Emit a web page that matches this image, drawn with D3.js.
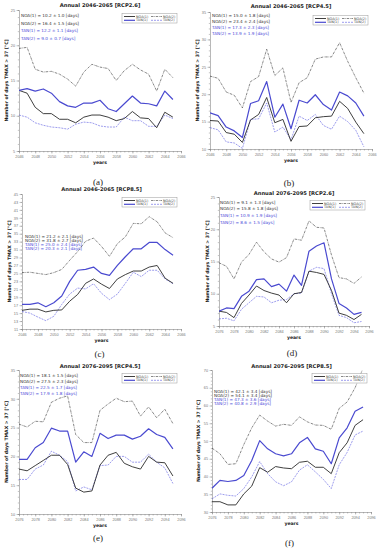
<!DOCTYPE html>
<html><head><meta charset="utf-8">
<script src="https://cdn.jsdelivr.net/npm/d3@7"></script>
<style>body{margin:0;background:#fff}svg{display:block}</style>
</head><body>
<script>
const yearsP1 = [2046,2047,2048,2049,2050,2051,2052,2053,2054,2055,2056,2057,2058,2059,2060,2061,2062,2063,2064,2065];
const yearsP2 = [2076,2077,2078,2079,2080,2081,2082,2083,2084,2085,2086,2087,2088,2089,2090,2091,2092,2093,2094,2095];
const seriesNames = ["NOA(1)","NOA(2)","TAN(1)","TAN(2)"];

// (a) 2046-2065 RCP2.6
const a_noa1 = [13.6,13.2,11.2,10.3,10.3,9.5,9.5,9.0,9.8,10.1,10.1,9.8,9.3,9.6,10.6,9.7,9.6,8.3,10.5,9.8];
const a_noa2 = [19.55,19.7,16.6,16.2,16.3,15.9,15.2,14.2,16.2,17.3,16.9,16.7,15.0,16.4,17.3,16.5,15.9,13.5,16.6,15.4];
const a_tan1 = [13.6,13.85,13.5,13.8,13.2,12.0,11.4,11.2,11.8,11.8,12.2,11.0,10.6,11.7,12.8,11.8,11.7,11.4,13.5,12.3];
const a_tan2 = [10.1,9.8,9.0,8.65,8.4,8.3,8.1,8.8,9.1,9.0,8.55,8.4,8.4,9.8,9.3,9.3,8.5,8.5,10.1,9.6];
// (b) 2046-2065 RCP4.5
const b_noa1 = [15.2,15.1,13.0,12.7,11.2,15.3,16.3,19.4,14.8,15.4,11.4,14.1,14.2,15.7,15.9,16.0,18.7,17.4,14.9,12.8];
const b_noa2 = [23.3,22.9,20.4,19.8,17.5,22.3,23.2,28.2,23.4,24.8,18.5,22.1,23.0,26.4,26.8,26.8,29.4,26.0,23.0,20.2];
const b_tan1 = [16.6,16.1,14.0,13.3,12.1,18.3,18.8,22.3,15.8,18.2,13.7,18.9,18.4,19.9,18.1,17.1,20.4,19.7,18.4,16.0];
const b_tan2 = [13.9,13.5,11.3,11.1,10.1,15.4,15.5,18.4,13.1,14.0,11.7,16.0,15.2,16.3,14.3,13.6,16.0,15.0,13.4,10.4];
// (c) 2046-2065 RCP8.5
const c_noa1 = [15.7,16.0,16.0,15.3,15.7,15.8,18.0,19.7,22.5,23.6,22.3,21.2,23.6,24.7,25.6,25.6,26.6,27.0,23.8,22.5];
const c_noa2 = [25.2,25.3,25.0,24.7,25.2,26.0,28.3,30.5,33.1,33.9,31.8,29.3,32.5,34.2,37.6,37.5,39.3,38.0,35.2,34.0];
const c_tan1 = [17.2,17.2,17.6,16.6,17.6,19.3,23.0,25.8,26.0,26.6,25.0,24.5,27.0,29.2,31.2,31.2,32.8,32.8,31.0,29.6];
const c_tan2 = [15.4,15.0,14.0,13.1,14.2,17.2,19.8,21.3,21.1,22.4,20.0,18.4,19.8,22.5,25.3,24.2,25.8,25.8,23.6,22.4];
// (d) 2076-2095 RCP2.6
const d_noa1 = [7.3,7.1,6.3,8.5,9.8,11.2,10.5,10.1,9.8,8.6,10.0,10.2,13.5,13.3,13.0,10.5,7.0,6.65,6.0,6.8];
const d_noa2 = [14.8,14.25,12.3,14.9,16.1,18.0,16.5,15.4,14.9,15.6,18.5,18.3,21.3,20.3,20.2,16.0,12.5,12.3,11.6,12.6];
const d_tan1 = [7.3,7.8,7.7,9.6,10.4,12.2,12.3,11.1,11.5,10.4,12.9,11.3,16.6,17.4,17.9,12.3,8.5,7.8,6.8,7.1];
const d_tan2 = [6.1,6.2,5.8,7.6,8.6,9.6,9.5,8.6,9.0,9.1,10.0,10.1,13.5,14.1,13.9,10.0,6.65,6.3,5.5,5.7];
// (e) 2076-2095 RCP4.5
const e_noa1 = [17.8,17.5,18.4,19.3,20.2,20.2,18.6,14.5,13.8,14.0,18.5,20.2,20.7,18.8,18.2,17.8,20.0,19.0,18.9,16.6];
const e_noa2 = [25.6,25.1,26.1,26.0,29.4,30.1,30.5,23.8,22.4,22.4,28.0,29.1,30.1,29.5,29.6,27.0,28.6,26.7,28.2,25.7];
const e_tan1 = [19.5,19.5,21.5,22.4,24.9,24.4,24.4,19.0,20.8,20.0,24.0,23.1,23.7,23.7,23.0,23.5,24.8,23.8,23.3,21.3];
const e_tan2 = [16.0,16.0,17.8,18.5,20.9,20.2,19.1,14.0,14.7,14.2,18.4,18.5,20.0,20.0,19.0,19.0,20.4,19.0,18.0,15.3];
// (f) 2076-2095 RCP8.5
const f_noa1 = [32.9,32.9,32.0,32.0,35.1,37.3,42.5,41.2,42.8,42.4,42.2,44.0,44.3,42.6,42.6,40.8,46.7,49.5,54.4,56.0];
const f_noa2 = [48.0,46.4,43.4,43.6,49.0,53.7,57.3,55.6,54.2,54.7,54.4,56.8,55.4,54.5,54.4,53.3,59.2,61.0,65.0,70.5];
const f_tan1 = [36.7,38.9,38.6,38.9,40.3,44.5,50.1,47.8,46.4,45.8,46.4,49.5,51.0,47.8,47.1,43.6,50.9,53.7,58.4,59.6];
const f_tan2 = [33.7,35.1,34.7,34.5,36.6,39.9,44.2,40.8,38.5,37.4,38.5,41.8,43.3,41.3,39.2,36.6,43.3,46.8,51.7,52.8];

const statsA = ["NOA(1) = 10.2 ± 1.0 [days]","NOA(2) = 16.4 ± 1.5 [days]","TAN(1) = 12.2 ± 1.1 [days]","TAN(2) = 9.0 ± 0.7 [days]"];
const statsB = ["NOA(1) = 15.0 ± 1.8 [days]","NOA(2) = 23.4 ± 2.4 [days]","TAN(1) = 17.3 ± 2.3 [days]","TAN(2) = 13.9 ± 1.9 [days]"];
const statsC = ["NOA(1) = 21.2 ± 2.1 [days]","NOA(2) = 31.8 ± 2.7 [days]","TAN(1) = 25.0 ± 2.4 [days]","TAN(2) = 20.3 ± 2.1 [days]"];
const statsD = ["NOA(1) = 9.1 ± 1.3 [days]","NOA(2) = 15.8 ± 1.8 [days]","TAN(1) = 10.9 ± 1.9 [days]","TAN(2) = 8.6 ± 1.5 [days]"];
const statsE = ["NOA(1) = 18.1 ± 1.5 [days]","NOA(2) = 27.5 ± 2.3 [days]","TAN(1) = 22.5 ± 1.7 [days]","TAN(2) = 17.9 ± 1.8 [days]"];
const statsF = ["NOA(1) = 42.1 ± 3.4 [days]","NOA(2) = 54.1 ± 3.4 [days]","TAN(1) = 47.3 ± 3.6 [days]","TAN(2) = 40.8 ± 2.9 [days]"];

const xTicksP1 = [2046,2048,2050,2052,2054,2056,2058,2060,2062,2064,2066];
const xTicksP2 = [2076,2078,2080,2082,2084,2086,2088,2090,2092,2094,2096];
const yTicksA = [5,10,15,20,25];
const yTicksB = [10,15,20,25,30,35];
const yTicksC = [11,13,15,17,19,21,23,25,27,29,31,33,35,37,39,41,43,45];
const yTicksD = [5,10,15,20,25];
const yTicksE = [10,15,20,25,30,35];
const yTicksF = [30,35,40,45,50,55,60,65,70];

const panels = [
  {id:"a", title:"Annual 2046-2065 [RCP2.6]", years:yearsP1, data:[a_noa1,a_noa2,a_tan1,a_tan2], stats:statsA, xt:xTicksP1, yt:yTicksA,
   L:19,R:181,T:10,B:151, titleY:7, statX:21, statY:[17,24.5,32,39.5], letter:"(a)", letterY:185, ylabX:6, minorY:1},
  {id:"b", title:"Annual 2046-2065 [RCP4.5]", years:yearsP1, data:[b_noa1,b_noa2,b_tan1,b_tan2], stats:statsB, xt:xTicksP1, yt:yTicksB,
   L:210,R:372,T:12,B:149, titleY:8, statX:212, statY:[17,23,29,35], letter:"(b)", letterY:186, ylabX:197, minorY:1},
  {id:"c", title:"Annual 2046-2065 [RCP8.5]", years:yearsP1, data:[c_noa1,c_noa2,c_tan1,c_tan2], stats:statsC, xt:xTicksP1, yt:yTicksC,
   L:22,R:181,T:194,B:329, titleY:191, statX:25, statY:[238,242,246,250], letter:"(c)", letterY:357, ylabX:9, minorY:0},
  {id:"d", title:"Annual 2076-2095 [RCP2.6]", years:yearsP2, data:[d_noa1,d_noa2,d_tan1,d_tan2], stats:statsD, xt:xTicksP2, yt:yTicksD,
   L:219,R:369,T:197,B:326, titleY:195, statX:220, statY:[204,210,217,224], letter:"(d)", letterY:356, ylabX:207, minorY:1},
  {id:"e", title:"Annual 2076-2095 [RCP4.5]", years:yearsP2, data:[e_noa1,e_noa2,e_tan1,e_tan2], stats:statsE, xt:xTicksP2, yt:yTicksE,
   L:19,R:181,T:370,B:514, titleY:368, statX:20, statY:[377,383,389,395], letter:"(e)", letterY:541, ylabX:6, minorY:1},
  {id:"f", title:"Annual 2076-2095 [RCP8.5]", years:yearsP2, data:[f_noa1,f_noa2,f_tan1,f_tan2], stats:statsF, xt:xTicksP2, yt:yTicksF,
   L:212,R:371,T:370,B:512, titleY:368, statX:214, statY:[393,397,401,405], letter:"(f)", letterY:546, ylabX:198, minorY:1}
];

const styles = [
  {stroke:"#2a2a2a", width:0.9, dash:null},
  {stroke:"#111", width:0.5, dash:"2.5,0.8,0.6,0.8"},
  {stroke:"#4a4ad0", width:1.2, dash:null},
  {stroke:"#5a5ae0", width:0.6, dash:"2,1"}
];
const statColors = ["#333","#333","#4a4ad8","#4a4ad8"];

const svg = d3.select("body").append("svg").attr("width",382).attr("height",550)
  .style("font-family","'DejaVu Sans', sans-serif");

panels.forEach(p => {
  const x = d3.scaleLinear().domain([p.xt[0], p.xt[p.xt.length-1]]).range([p.L,p.R]);
  const y = d3.scaleLinear().domain([p.yt[0], p.yt[p.yt.length-1]]).range([p.B,p.T]);
  const g = svg.append("g");
  g.append("clipPath").attr("id","clip"+p.id).append("rect")
    .attr("x",p.L).attr("y",p.T).attr("width",p.R-p.L).attr("height",p.B-p.T);

  // x axis
  const xMinor = d3.range(p.xt[0], p.xt[p.xt.length-1]+0.01, 0.5);
  const xa = g.append("g").attr("transform",`translate(0,${p.B})`)
    .call(d3.axisBottom(x).tickValues(xMinor).tickSize(1.5).tickFormat(""));
  xa.select(".domain").attr("stroke","#888").attr("stroke-width",0.6);
  xa.selectAll(".tick line").attr("stroke","#888").attr("stroke-width",0.5);
  const xa2 = g.append("g").attr("transform",`translate(0,${p.B})`)
    .call(d3.axisBottom(x).tickValues(p.xt).tickSize(2.5).tickPadding(2).tickFormat(d3.format("d")));
  xa2.select(".domain").remove();
  xa2.selectAll(".tick line").attr("stroke","#888").attr("stroke-width",0.5);
  xa2.selectAll("text").attr("font-size",3.8).attr("fill","#777");

  // y axis
  const yMinorStep = p.minorY ? 1 : 1;
  const yMinor = d3.range(p.yt[0], p.yt[p.yt.length-1]+0.01, yMinorStep);
  const ya = g.append("g").attr("transform",`translate(${p.L},0)`)
    .call(d3.axisLeft(y).tickValues(yMinor).tickSize(1.2).tickFormat(""));
  ya.select(".domain").attr("stroke","#888").attr("stroke-width",0.6);
  ya.selectAll(".tick line").attr("stroke","#888").attr("stroke-width",0.5);
  const ya2 = g.append("g").attr("transform",`translate(${p.L},0)`)
    .call(d3.axisLeft(y).tickValues(p.yt).tickSize(2.5).tickPadding(1.5).tickFormat(d3.format("d")));
  ya2.select(".domain").remove();
  ya2.selectAll(".tick line").attr("stroke","#888").attr("stroke-width",0.5);
  ya2.selectAll("text").attr("font-size",3.8).attr("fill","#777");

  // lines
  const line = d3.line().x((d,i)=>x(p.years[i])).y(d=>y(d));
  const lg = g.append("g").attr("clip-path",`url(#clip${p.id})`);
  [1,3,0,2].forEach(k => {
    const s = styles[k];
    lg.append("path").datum(p.data[k]).attr("d",line).attr("fill","none")
      .attr("stroke",s.stroke).attr("stroke-width",s.width)
      .attr("stroke-dasharray",s.dash).attr("stroke-linejoin","round");
  });

  // title
  g.append("text").attr("x",(p.L+p.R)/2).attr("y",p.titleY).attr("text-anchor","middle")
    .attr("font-size",5.2).attr("font-weight","bold").attr("fill","#222").text(p.title);
  // y label
  g.append("text").attr("transform",`translate(${p.ylabX},${(p.T+p.B)/2}) rotate(-90)`)
    .attr("text-anchor","middle").attr("dy","0.35em").attr("font-size",4.6).attr("font-weight","bold")
    .attr("fill","#222").text("Number of days TMAX > 37 [°C]");
  // x label
  g.append("text").attr("x",(p.L+p.R)/2).attr("y",p.B+12.5).attr("text-anchor","middle")
    .attr("font-size",4.6).attr("font-weight","bold").attr("fill","#222").text("years");
  // panel letter
  g.append("text").attr("x",(p.L+p.R)/2 - 2).attr("y",p.letterY).attr("text-anchor","middle")
    .attr("font-family","'Liberation Serif', serif").attr("font-size",9).attr("fill","#222").text(p.letter);

  // stats
  p.stats.forEach((t,i) => {
    g.append("text").attr("x",p.statX).attr("y",p.statY[i]).attr("font-size",4.2)
      .attr("fill",statColors[i]).text(t);
  });

  // legend
  const lw = 55, lh = 9.5;
  const lx = p.R - 4 - lw, ly = p.T + 3.5;
  const leg = g.append("g");
  leg.append("rect").attr("x",lx).attr("y",ly).attr("width",lw).attr("height",lh)
    .attr("fill","#fff").attr("stroke","#999").attr("stroke-width",0.5);
  const pos = [[0,0],[1,0],[0,1],[1,1]];
  seriesNames.forEach((n,k) => {
    const cx = lx + 2 + pos[k][0]*27, cy = ly + 3 + pos[k][1]*3.8;
    const s = styles[k];
    leg.append("line").attr("x1",cx).attr("x2",cx+11).attr("y1",cy).attr("y2",cy)
      .attr("stroke",s.stroke).attr("stroke-width",s.width).attr("stroke-dasharray",s.dash);
    leg.append("text").attr("x",cx+12).attr("y",cy).attr("dy","0.35em").attr("font-size",3.4)
      .attr("fill","#444").text(n);
  });
});
</script>
</body></html>
